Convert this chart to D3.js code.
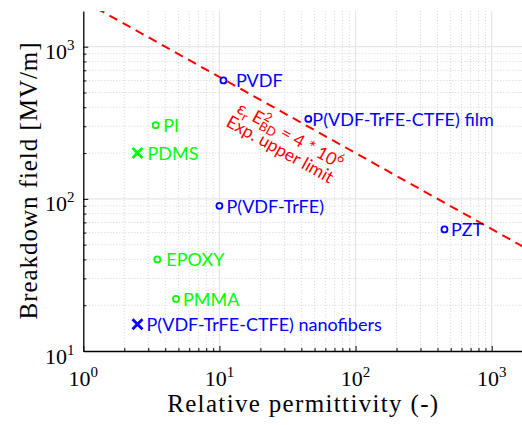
<!DOCTYPE html>
<html><head><meta charset="utf-8">
<script src="https://cdn.jsdelivr.net/npm/d3@7"></script>
<style>
html,body{margin:0;padding:0;background:#fff;}
svg{display:block;}
</style></head>
<body>
<svg id="chart" width="522" height="425"></svg>
<script>
// ---------------- data ----------------
const materials = ["PVDF", "P(VDF-TrFE-CTFE) film", "P(VDF-TrFE)", "PZT", "PI", "PDMS", "EPOXY", "PMMA", "P(VDF-TrFE-CTFE) nanofibers"];
const permittivity = [10.7, 45, 10, 450, 3.4, 2.5, 3.5, 4.8, 2.5];
const breakdownField = [600, 335, 90, 63, 305, 200, 40, 22, 15];
const markerShape = ["o", "o", "o", "o", "o", "x", "o", "o", "x"];
const materialGroup = ["blue", "blue", "blue", "blue", "green", "green", "green", "green", "blue"];
const limitPermittivity = [1, 2000];
const limitField = [2000, 44.72];          // eps_r * E_BD^2 = 4e6
const limitLabelLine2 = "Exp. upper limit";
const xTickValues = [1, 10, 100, 1000];
const yTickValues = [10, 100, 1000];
const xTickLabels = [["10", "0"], ["10", "1"], ["10", "2"], ["10", "3"]];
const yTickLabels = [["10", "1"], ["10", "2"], ["10", "3"]];
const xTitle = "Relative permittivity (-)";
const yTitle = "Breakdown field [MV/m]";

// ---------------- style / layout ----------------
const W = 522, H = 425;
const X0 = 83.3, XPD = 136.13, Y0 = 351, YPD = 152.15, YTOP = 10.9;
const SERIF = "'Liberation Serif','Times New Roman',serif";
const SANS = "Lato,'Open Sans',sans-serif";
const colors = { blue: "#0000ff", green: "#00ff00" };
const labelDx = [12.5, 4, 7, 6.5, 7.6, 10, 9, 7, 9];
const annotAnchor = { eps: 13.2, field: 372 };

const svg = d3.select("#chart");
const x = d3.scaleLog().domain([1, 2000]).range([X0, X0 + XPD * Math.log10(2000)]);
const yMaxVal = Math.pow(10, 1 + (Y0 - YTOP) / YPD);
const y = d3.scaleLog().domain([10, yMaxVal]).range([Y0, YTOP]);
const xRight = W + 5;

svg.append("defs").append("clipPath").attr("id", "plotclip")
  .append("rect").attr("x", X0).attr("y", YTOP).attr("width", xRight - X0).attr("height", Y0 - YTOP);

const isMajor = v => Math.abs(Math.log10(v) - Math.round(Math.log10(v))) < 1e-9;
const xAll = x.ticks().filter(v => v <= 2000);
const yAll = y.ticks();
const xMinor = xAll.filter(v => !isMajor(v));
const yMinor = yAll.filter(v => !isMajor(v));

// grid
const grid = svg.append("g").attr("clip-path", "url(#plotclip)");
grid.selectAll("line.xmin").data(xMinor).join("line")
  .attr("x1", d => x(d)).attr("x2", d => x(d)).attr("y1", YTOP).attr("y2", Y0)
  .attr("stroke", "#d4d4d4").attr("stroke-width", 1).attr("stroke-dasharray", "1,2");
grid.selectAll("line.ymin").data(yMinor).join("line")
  .attr("y1", d => y(d)).attr("y2", d => y(d)).attr("x1", X0).attr("x2", xRight)
  .attr("stroke", "#d4d4d4").attr("stroke-width", 1).attr("stroke-dasharray", "1,2");
grid.selectAll("line.xmaj").data(xTickValues.filter(v => v > 1)).join("line")
  .attr("x1", d => x(d)).attr("x2", d => x(d)).attr("y1", YTOP).attr("y2", Y0)
  .attr("stroke", "#e6e6e6").attr("stroke-width", 1.3);
grid.selectAll("line.ymaj").data(yTickValues.filter(v => v > 10)).join("line")
  .attr("y1", d => y(d)).attr("y2", d => y(d)).attr("x1", X0).attr("x2", xRight)
  .attr("stroke", "#e6e6e6").attr("stroke-width", 1.3);

// axes
function styleAxis(g) {
  g.selectAll("path.domain").attr("stroke", "#000").attr("stroke-width", 1.3);
  g.selectAll(".tick line").attr("stroke", "#000").attr("stroke-width", 1);
  g.selectAll(".tick text").remove();
}
svg.append("g").attr("transform", `translate(0,${Y0})`)
  .call(d3.axisBottom(x).tickValues(xMinor).tickSize(-3).tickSizeOuter(0).tickFormat(""))
  .call(g => g.select("path.domain").remove()).call(styleAxis);
svg.append("g").attr("transform", `translate(0,${Y0})`)
  .call(d3.axisBottom(x).tickValues(xTickValues).tickSize(-5).tickSizeOuter(0).tickFormat(""))
  .call(styleAxis);
svg.append("g").attr("transform", `translate(${X0},0)`)
  .call(d3.axisLeft(y).tickValues(yMinor).tickSize(-3).tickSizeOuter(0).tickFormat(""))
  .call(g => g.select("path.domain").remove()).call(styleAxis);
svg.append("g").attr("transform", `translate(${X0},0)`)
  .call(d3.axisLeft(y).tickValues(yTickValues).tickSize(-5).tickSizeOuter(0).tickFormat(""))
  .call(styleAxis);

// tick labels
xTickValues.forEach((v, i) => {
  const t = svg.append("text").attr("x", x(v)).attr("y", Y0 + 35).attr("text-anchor", "middle")
    .attr("font-family", SERIF).attr("font-size", 22).attr("fill", "#000");
  t.append("tspan").text(xTickLabels[i][0]);
  t.append("tspan").attr("font-size", 15).attr("dy", -9).text(xTickLabels[i][1]);
});
yTickValues.forEach((v, i) => {
  const t = svg.append("text").attr("x", 74.5).attr("y", y(v) + 12.5).attr("text-anchor", "end")
    .attr("font-family", SERIF).attr("font-size", 22).attr("fill", "#000");
  t.append("tspan").text(yTickLabels[i][0]);
  t.append("tspan").attr("font-size", 15).attr("dy", -9).text(yTickLabels[i][1]);
});

// titles
svg.append("text").attr("x", (X0 + W) / 2).attr("y", 412).attr("text-anchor", "middle")
  .attr("font-family", SERIF).attr("font-size", 25).attr("textLength", 271).attr("lengthAdjust", "spacing")
  .text(xTitle);
svg.append("text").attr("transform", `translate(37,${(YTOP + Y0) / 2}) rotate(-90)`).attr("text-anchor", "middle")
  .attr("font-family", SERIF).attr("font-size", 25).attr("textLength", 277).attr("lengthAdjust", "spacing")
  .text(yTitle);

// limit line
const plot = svg.append("g").attr("clip-path", "url(#plotclip)");
const limitPts = limitPermittivity.map((e, i) => [e, limitField[i]]);
plot.append("path").datum(limitPts)
  .attr("d", d3.line().x(d => x(d[0])).y(d => y(d[1])))
  .attr("fill", "none").attr("stroke", "#ff0000").attr("stroke-width", 2).attr("stroke-dasharray", "9,6");

// annotation (rotated along the limit line)
const ang = Math.atan2(y(limitField[1]) - y(limitField[0]), x(limitPermittivity[1]) - x(limitPermittivity[0])) * 180 / Math.PI;
const ag = svg.append("g")
  .attr("transform", `translate(${x(annotAnchor.eps)},${y(annotAnchor.field)}) rotate(${ang})`)
  .attr("font-family", SANS).attr("fill", "#ff0000").attr("font-size", 17.5);
const a1 = ag.append("text").attr("x", 0).attr("y", 0);
a1.append("tspan").text("ε");
a1.append("tspan").attr("font-size", 12.5).attr("dy", 4).text("r");
a1.append("tspan").attr("dy", -4).text(" E");
a1.append("tspan").attr("font-size", 12.5).attr("dy", -7).text("2");
a1.append("tspan").attr("font-size", 12.5).attr("dx", -7).attr("dy", 11).text("BD");
a1.append("tspan").attr("dy", -4).text(" = 4 * 10");
a1.append("tspan").attr("font-size", 12.5).attr("dy", -7).text("6");
ag.append("text").attr("x", -3).attr("y", 17).text(limitLabelLine2);

// points
const pts = materials.map((m, i) => ({ name: m, eps: permittivity[i], E: breakdownField[i], shape: markerShape[i], color: colors[materialGroup[i]], dx: labelDx[i] }));
const pg = svg.append("g");
pg.selectAll("circle").data(pts.filter(d => d.shape === "o")).join("circle")
  .attr("cx", d => x(d.eps)).attr("cy", d => y(d.E)).attr("r", 3)
  .attr("fill", "none").attr("stroke", d => d.color).attr("stroke-width", 1.8);
pg.selectAll("path.xm").data(pts.filter(d => d.shape === "x")).join("path").attr("class", "xm")
  .attr("d", d => { const cx = x(d.eps), cy = y(d.E), s = 5; return `M${cx - s},${cy - s}L${cx + s},${cy + s}M${cx - s},${cy + s}L${cx + s},${cy - s}`; })
  .attr("stroke", d => d.color).attr("stroke-width", 2.8).attr("fill", "none");
pg.selectAll("text").data(pts).join("text")
  .attr("x", d => x(d.eps) + d.dx).attr("y", d => y(d.E) + 7)
  .attr("font-family", SANS).attr("font-size", 18).attr("fill", d => d.color)
  .text(d => d.name);
</script>
</body></html>
